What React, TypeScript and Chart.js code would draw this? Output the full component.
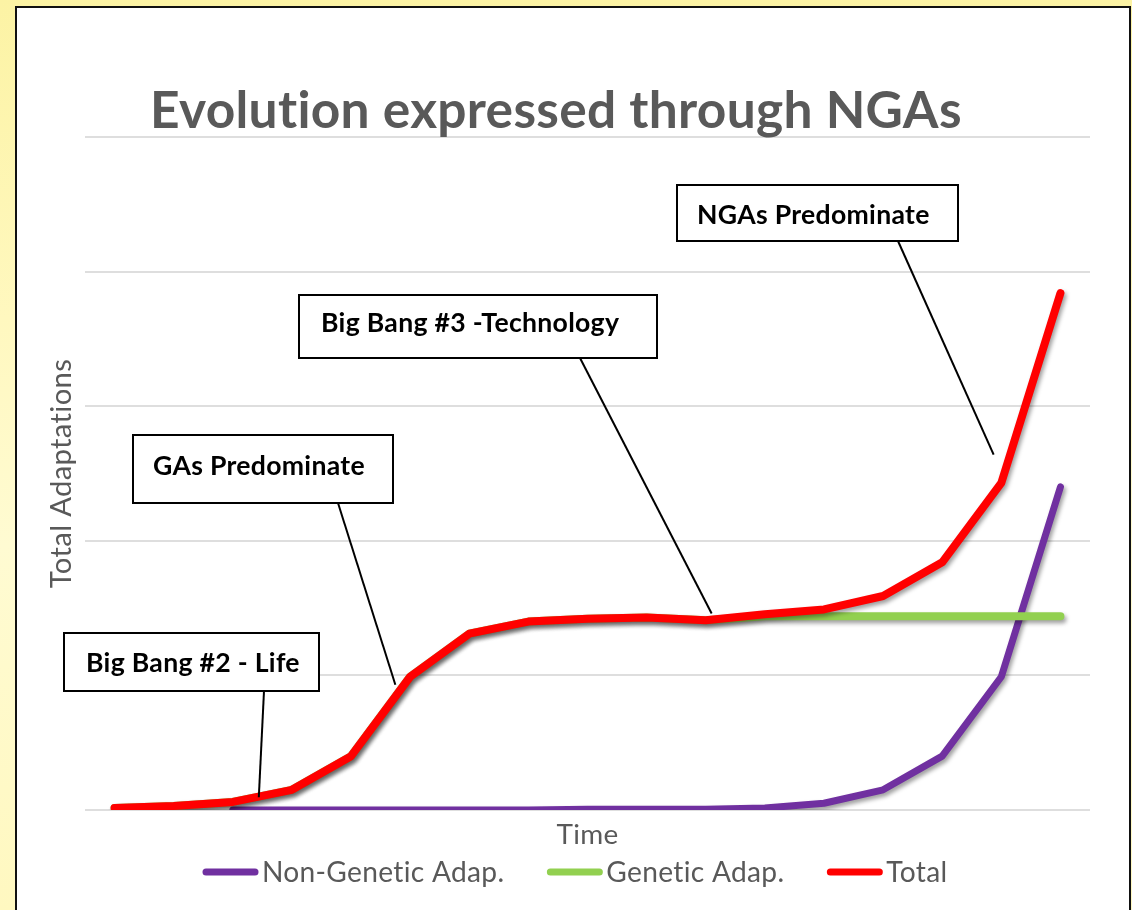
import React, { useEffect, useRef } from 'react';
import { Chart, registerables } from 'chart.js';

Chart.register(...registerables);

// ---- data ----
const categories = ['t1', 't2', 't3', 't4', 't5', 't6', 't7', 't8', 't9', 't10', 't11', 't12', 't13', 't14', 't15', 't16', 't17'];
const nonGenetic = [null, null, 0, 0, 0, 0, 0, 0, 0.05, 0.05, 0.05, 0.15, 0.5, 1.5, 4.0, 9.9, 24.0];
const genetic = [0.15, 0.3, 0.6, 1.5, 4.0, 9.9, 13.1, 14.0, 14.2, 14.3, 14.1, 14.4, 14.4, 14.4, 14.4, 14.4, 14.4];
const total = [0.15, 0.3, 0.6, 1.5, 4.0, 9.9, 13.1, 14.0, 14.2, 14.3, 14.1, 14.55, 14.9, 15.9, 18.4, 24.3, 38.4];
const seriesLabels = ['Non-Genetic Adap.', 'Genetic Adap.', 'Total'];
const yTicks = [0, 10, 20, 30, 40, 50];

const chartTitle = 'Evolution expressed through NGAs';
const xTitle = 'Time';
const yTitle = 'Total Adaptations';

// annotation texts and the data points (category index, value) their leaders point to
const noteTexts = ['Big Bang #2 - Life', 'GAs Predominate', 'Big Bang #3 -Technology', 'NGAs Predominate'];
const noteAnchorIndex = [2.44, 4.75, 10.1, 14.87];
const noteAnchorValue = [0.95, 9.3, 14.6, 26.4];

// ---- styles / layout ----
const FONT = 'Lato';
const GRAY = '#595959';
const COLORS = ['#7030A0', '#92D050', '#FF0000'];
const SPACING = '0.3px'; // non-zero spacing keeps "ti" from becoming a ligature
const noteBoxes = [
  { l: 64, t: 633, r: 319, b: 691, tx: 86, ty: 662, lx: 264 },
  { l: 133, t: 435, r: 393, b: 503, tx: 153, ty: 465, lx: 338 },
  { l: 299, t: 295, r: 657, b: 358, tx: 321, ty: 322, lx: 580 },
  { l: 677, t: 185, r: 958, b: 241, tx: 697, ty: 214, lx: 898 },
];

function fitSize(text: string, weight: number, target: number) {
  const c = document.createElement('canvas').getContext('2d')! as any;
  c.font = `${weight} 100px ${FONT}`;
  const w = c.measureText(text).width;
  // letter spacing adds per-character width at the final size
  return (100 * (target - text.length * 0.3)) / w;
}

export default function App() {
  const ref = useRef<HTMLCanvasElement>(null);

  useEffect(() => {
    const canvas = ref.current!;
    const titleSize = fitSize(chartTitle, 700, 813);
    const noteSize = fitSize('GAs Predominate', 700, 212);
    const timeSize = fitSize(xTitle, 400, 62);
    const ySize = fitSize(yTitle, 400, 230);
    const legendSize = fitSize(seriesLabels[0], 400, 243);

    const spacingPlugin = {
      id: 'spacing',
      beforeDraw(chart: any) {
        (chart.ctx as any).letterSpacing = SPACING;
      },
    };

    const shadowPlugin = {
      id: 'shadow',
      beforeDatasetDraw(chart: any) {
        const ctx = chart.ctx;
        ctx.save();
        ctx.shadowColor = 'rgba(0,0,0,0.38)';
        ctx.shadowBlur = 4;
        ctx.shadowOffsetX = 2;
        ctx.shadowOffsetY = 3;
      },
      afterDatasetDraw(chart: any) {
        chart.ctx.restore();
      },
    };

    const decorPlugin = {
      id: 'decor',
      afterDraw(chart: any) {
        const ctx = chart.ctx as CanvasRenderingContext2D;
        const xs = chart.scales.x;
        const ys = chart.scales.y;
        ctx.save();
        (ctx as any).letterSpacing = SPACING;
        // title
        ctx.font = `700 ${titleSize}px ${FONT}`;
        ctx.fillStyle = GRAY;
        ctx.textAlign = 'left';
        ctx.textBaseline = 'alphabetic';
        ctx.fillText(chartTitle, 150, 128);

        // annotations
        ctx.font = `700 ${noteSize}px ${FONT}`;
        const capH = ctx.measureText('H').actualBoundingBoxAscent;
        noteTexts.forEach((txt, i) => {
          const bx = noteBoxes[i];
          const ax = xs.getPixelForValue(noteAnchorIndex[i]);
          const ay = ys.getPixelForValue(noteAnchorValue[i]);
          ctx.strokeStyle = '#000';
          ctx.lineWidth = 2;
          ctx.beginPath();
          ctx.moveTo(bx.lx, bx.b);
          ctx.lineTo(ax, ay);
          ctx.stroke();
          ctx.fillStyle = '#fff';
          ctx.fillRect(bx.l, bx.t, bx.r - bx.l, bx.b - bx.t);
          ctx.strokeRect(bx.l, bx.t, bx.r - bx.l, bx.b - bx.t);
          ctx.fillStyle = '#000';
          ctx.fillText(txt, bx.tx, bx.ty + capH / 2);
        });

        // legend
        ctx.font = `400 ${legendSize}px ${FONT}`;
        ctx.textBaseline = 'middle';
        const ly = 872;
        let x = 203;
        chart.data.datasets.forEach((ds: any) => {
          ctx.strokeStyle = ds.borderColor;
          ctx.lineWidth = 7;
          ctx.lineCap = 'round';
          ctx.beginPath();
          ctx.moveTo(x + 3, ly);
          ctx.lineTo(x + 52, ly);
          ctx.stroke();
          ctx.fillStyle = GRAY;
          ctx.fillText(ds.label, x + 59, ly + 1);
          x += 59 + ctx.measureText(ds.label).width + 43;
        });
        ctx.restore();
      },
    };

    const chart = new Chart(canvas, {
      type: 'line',
      data: {
        labels: categories,
        datasets: [
          { label: seriesLabels[0], data: nonGenetic, borderColor: COLORS[0], backgroundColor: COLORS[0], borderWidth: 7, order: 2 },
          { label: seriesLabels[1], data: genetic, borderColor: COLORS[1], backgroundColor: COLORS[1], borderWidth: 8, order: 1 },
          { label: seriesLabels[2], data: total, borderColor: COLORS[2], backgroundColor: COLORS[2], borderWidth: 8, order: 0 },
        ],
      },
      options: {
        responsive: false,
        animation: false,
        layout: { padding: { top: 137, right: 42, bottom: 50, left: 0 } },
        plugins: { legend: { display: false }, title: { display: false }, tooltip: { enabled: false } },
        elements: {
          point: { radius: 0 },
          line: { tension: 0, borderCapStyle: 'round', borderJoinStyle: 'round' },
        },
        scales: {
          x: {
            offset: true,
            grid: { display: false },
            border: { display: false },
            ticks: { display: false },
            title: {
              display: true,
              text: xTitle,
              color: GRAY,
              font: { family: FONT, size: timeSize, lineHeight: 1.2 },
              padding: { top: 0, bottom: 25 - timeSize * 0.6 },
            },
            afterFit: (s: any) => { s.height = 50; },
          },
          y: {
            min: yTicks[0],
            max: yTicks[yTicks.length - 1],
            ticks: { display: false, stepSize: yTicks[1] - yTicks[0] },
            grid: { color: '#dedede', lineWidth: 2, drawTicks: false },
            border: { display: false },
            title: {
              display: true,
              text: yTitle,
              color: GRAY,
              font: { family: FONT, size: ySize, lineHeight: 1.2 },
              padding: { top: 62 - ySize * 0.6, bottom: 0 },
            },
            afterFit: (s: any) => { s.width = 85; },
          },
        },
      },
      plugins: [spacingPlugin, shadowPlugin, decorPlugin],
    } as any);
    return () => chart.destroy();
  }, []);

  return (
    <div style={{ position: 'fixed', inset: 0, overflow: 'hidden', background: 'linear-gradient(to bottom, #fcf3a4 0%, #fff8bf 35%, #fffbd2 60%, #fff8c0 100%)' }}>
      <div style={{ position: 'absolute', left: 15, top: 6, width: 1112, height: 1000, border: '2px solid #111', background: '#fff' }} />
      <canvas ref={ref} width={1132} height={910} style={{ position: 'absolute', left: 0, top: 0 }} />
    </div>
  );
}
